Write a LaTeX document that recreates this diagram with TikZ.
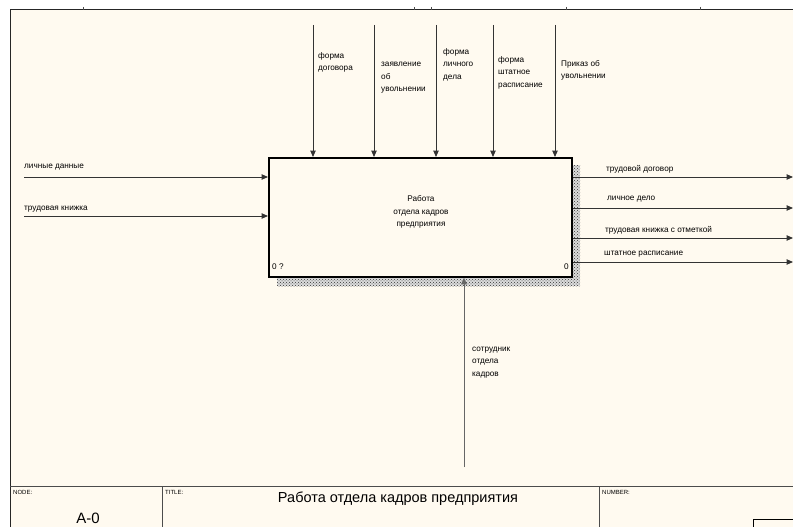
\documentclass[tikz,border=0pt]{standalone}
\usepackage{fontspec}
\setmainfont{Liberation Sans}
\usetikzlibrary{arrows.meta,patterns}
\definecolor{cream}{RGB}{255,250,240}
\begin{document}
\begin{tikzpicture}[x=1pt,y=-1pt,
  lbl/.style={font=\fontsize{8.2}{12.5}\selectfont, inner sep=0pt, anchor=north west, align=left},
  tiny/.style={font=\fontsize{6}{7}\selectfont, inner sep=0pt, anchor=north west},
  arr/.style={line width=1pt, draw=black!80, -{Triangle[length=6.5pt,width=5.5pt]}},
  frame/.style={line width=1pt, draw=black!85}]
\useasboundingbox (0,0) rectangle (793,527);
\fill[cream] (10,10) rectangle (793,527);
\draw[frame] (10,527) -- (10,10) -- (793,10);
\foreach \tx in {83,414,431,566,700} \draw[line width=0.5pt, black!70] (\tx,7) -- (\tx,10);
% shadow and box
\fill[black!14] (277,165) rectangle (580,286);
\fill[pattern=crosshatch dots, pattern color=black!80] (277,165) rectangle (580,286);
\node[draw, line width=1.8pt, fill=cream, minimum width=303pt, minimum height=119pt, anchor=north west, inner sep=0pt] (A0) at (268,157) {};
\node[font=\fontsize{8.2}{12.5}\selectfont, align=center, inner sep=0pt] (t) at (421,212) {Работа\\отдела кадров\\предприятия};
\node[lbl] (n0) at (272,264) {0 ?};
\node[lbl] (n1) at (564,264) {0};
% controls
\coordinate (c1) at (313,25);
\coordinate (c2) at (374,25);
\coordinate (c3) at (436,25);
\coordinate (c4) at (493,25);
\coordinate (c5) at (555,25);
\foreach \c in {c1,c2,c3,c4,c5} \draw[arr] (\c) -- (\c |- A0.north);
\node[lbl] (l1) at (318,52) {форма\\договора};
\node[lbl] (l2) at (381,62) {заявление\\об\\увольнении};
\node[lbl] (l3) at (443,48) {форма\\личного\\дела};
\node[lbl] (l4) at (498,56) {форма\\штатное\\расписание};
\node[lbl] (l5) at (561,60) {Приказ об\\увольнении};
% inputs
\coordinate (i1) at (24,177);
\coordinate (i2) at (24,216);
\draw[arr] (i1) -- (i1 -| A0.west);
\draw[arr] (i2) -- (i2 -| A0.west);
\node[lbl] (li1) at (24,163.5) {личные данные};
\node[lbl] (li2) at (24,205.5) {трудовая книжка};
% outputs
\coordinate (o1) at (793,177);
\coordinate (o2) at (793,208);
\coordinate (o3) at (793,238);
\coordinate (o4) at (793,262);
\foreach \o in {o1,o2,o3,o4} \draw[arr] (\o -| A0.east) -- (\o);
\node[lbl] (lo1) at (606,165.5) {трудовой договор};
\node[lbl] (lo2) at (607,195.5) {личное дело};
\node[lbl] (lo3) at (605,226.5) {трудовая книжка с отметкой};
\node[lbl] (lo4) at (604,250.5) {штатное расписание};
% mechanism
\coordinate (m) at (464,467);
\draw[arr, draw=black!60] (m) -- (m |- A0.south);
\node[lbl] (lm) at (472,346.5) {сотрудник\\отдела\\кадров};
% title block
\draw[frame, draw=black!70] (10,486) -- (793,486);
\draw[frame, draw=black!70] (162,486) -- (162,527);
\draw[frame, draw=black!70] (599,486) -- (599,527);
\node[tiny] (nd) at (13,490) {NODE:};
\node[tiny] (tt) at (165,490) {TITLE:};
\node[tiny] (nb) at (602,490) {NUMBER:};
\node[font=\fontsize{15}{16}\selectfont, inner sep=0pt] (a0) at (88,518) {A-0};
\node[font=\fontsize{14.5}{16}\selectfont, inner sep=0pt] (ttl) at (398,499) {Работа отдела кадров предприятия};
\draw[line width=0.8pt] (753,530) -- (753,519) -- (796,519);
\end{tikzpicture}
\end{document}
